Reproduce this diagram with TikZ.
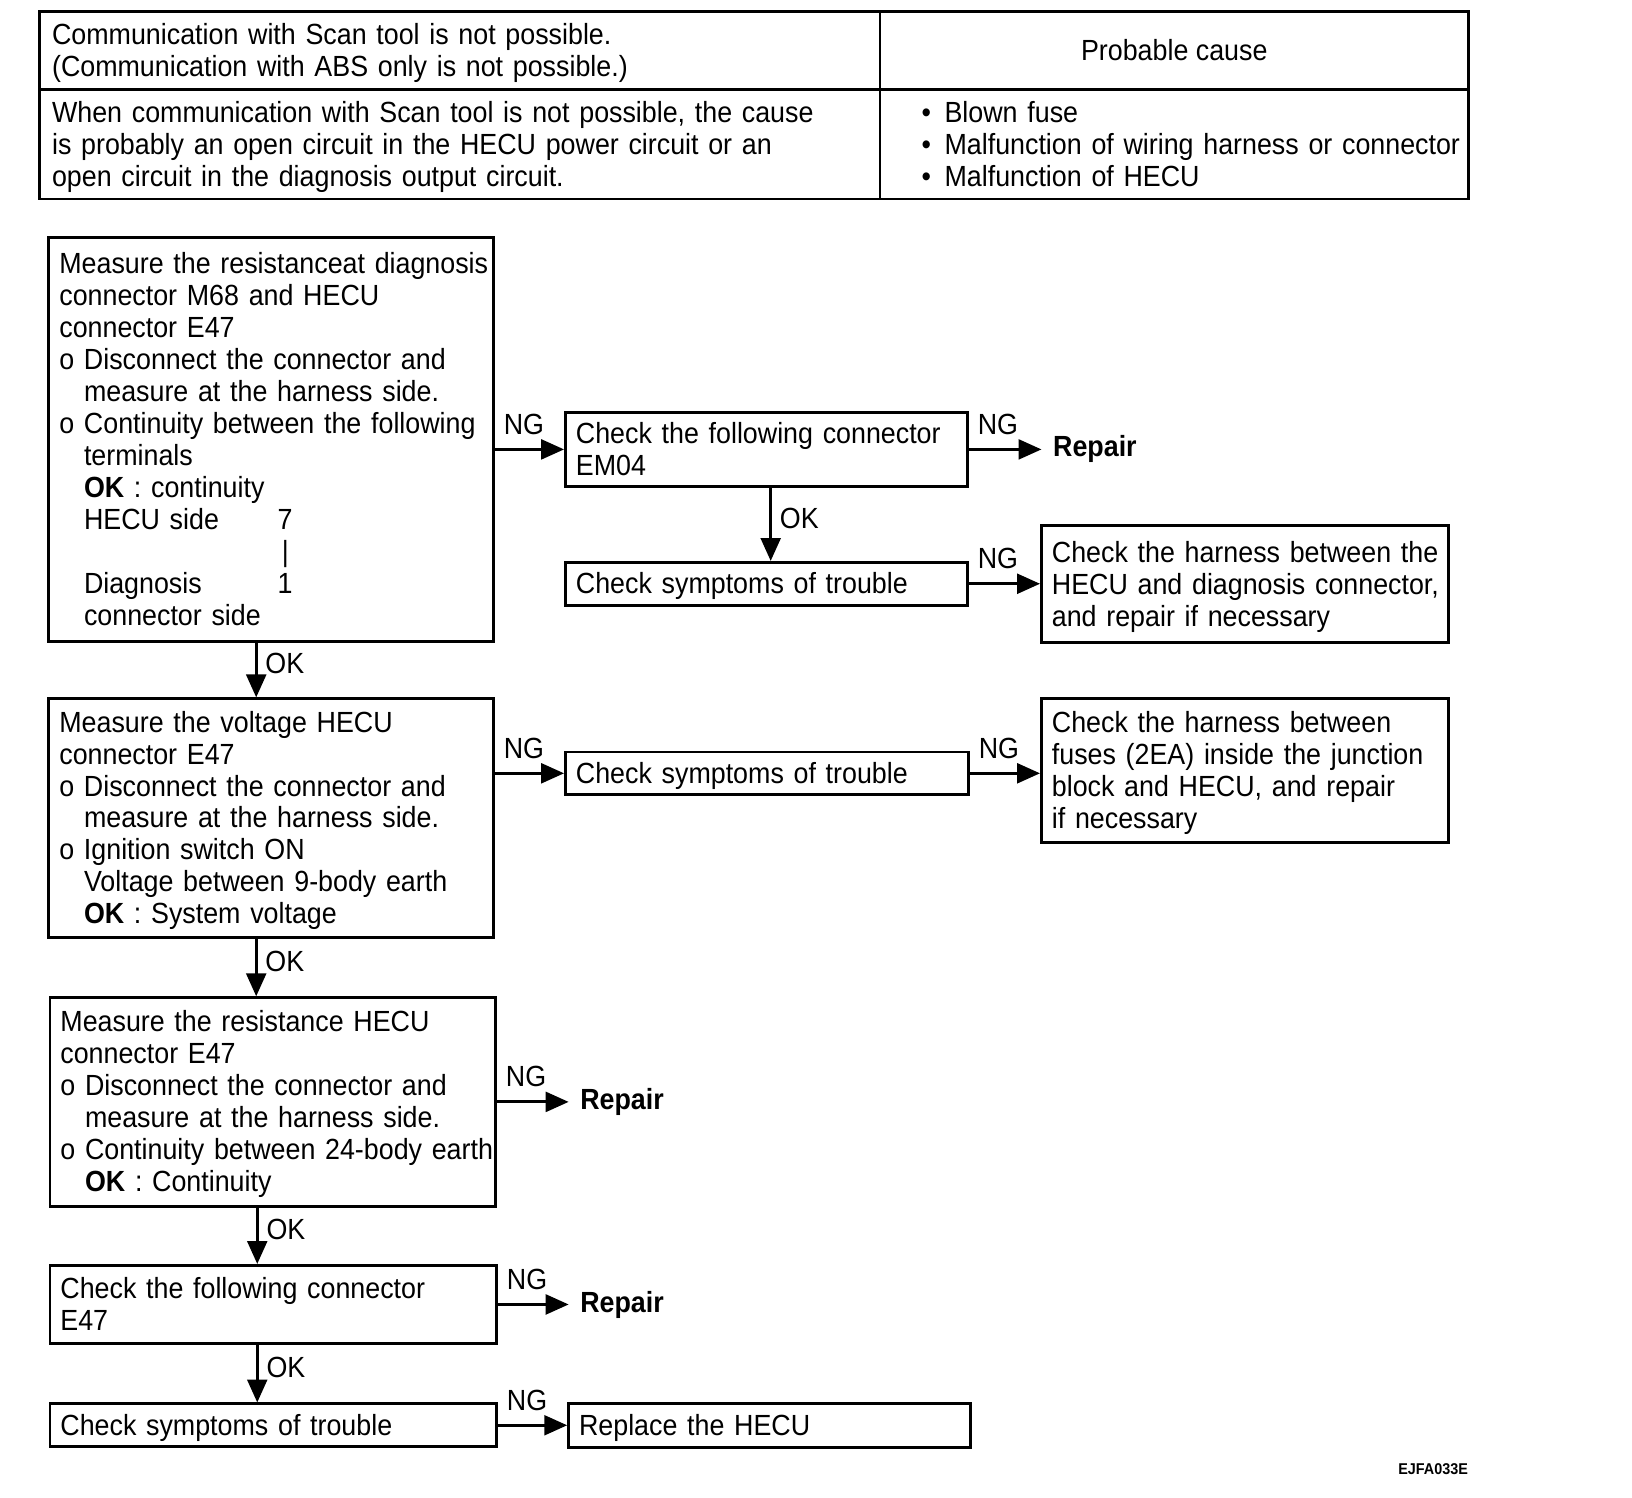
\documentclass[tikz,border=0pt]{standalone}
\usepackage{fontspec}
\setmainfont{Liberation Sans}[FakeStretch=0.92]
\usetikzlibrary{arrows.meta}
\newcommand{\ind}{\hphantom{o }}

\begin{document}
\begin{tikzpicture}[x=1pt, y=-1pt, font=\fontsize{28}{30.7}\selectfont,
    tabcell/.style={draw, rectangle, line width=2.5pt, inner xsep=12pt, inner ysep=3pt, align=left,
        execute at begin node={\hyphenpenalty=10000\rightskip=-60pt plus 1fil\rule{0pt}{25pt}},
        execute at end node={\rule[-6pt]{0pt}{6pt}}},
    chkbox/.style={draw, rectangle, line width=2.8pt, inner xsep=10pt, inner ysep=3pt, align=left,
        execute at begin node={\hyphenpenalty=10000\rightskip=-60pt plus 1fil\rule{0pt}{25pt}},
        execute at end node={\rule[-6pt]{0pt}{6pt}}},
    flowarrow/.style={-{Triangle[length=22pt, width=19pt]}, line width=2.8pt},
    nglabel/.style={anchor=south west, inner sep=0pt, xshift=7pt, yshift=13pt},
    oklabel/.style={anchor=west, inner sep=0pt, xshift=7.5pt, yshift=6pt},
    repairnode/.style={anchor=west, inner xsep=11pt, font=\bfseries\fontsize{28}{30.7}\selectfont}]
    \useasboundingbox (0,0) rectangle (1567,1438);
    % table
    \node (Symptom) at (441.5, 48.5) [tabcell, minimum width=807pt, minimum height=75pt, text width=783pt] {Communication with Scan tool is not possible.\\(Communication with ABS only is not possible.)};
    \node (CauseHead) at (1127.5, 48.5) [draw, line width=2.5pt, minimum width=565pt, minimum height=75pt] {Probable cause};
    \node (Detail) at (441.5, 138.5) [tabcell, minimum width=807pt, minimum height=105pt, text width=783pt] {When communication with Scan tool is not possible, the cause\\is probably an open circuit in the HECU power circuit or an\\open circuit in the diagnosis output circuit.};
    \node (Causes) at (1127.5, 138.5) [tabcell, minimum width=565pt, minimum height=105pt, inner xsep=8pt, text width=549pt] {\hspace*{32pt}\makebox[22pt][l]{\textbullet}Blown fuse\\\hspace*{32pt}\makebox[22pt][l]{\textbullet}Malfunction of wiring harness or connector\\\hspace*{32pt}\makebox[22pt][l]{\textbullet}Malfunction of HECU};
    % flow boxes
    \node (Meas1) at (260.5, 422) [chkbox, minimum width=427pt, minimum height=388pt, text width=407pt] {Measure the resistanceat diagnosis\\connector M68 and HECU\\connector E47\\o Disconnect the connector and\\\ind measure at the harness side.\\o Continuity between the following\\\ind terminals\\\ind\textbf{OK} : continuity\\\ind\makebox[186pt][l]{HECU side}7\\\ind\hspace*{190pt}|\\\ind\makebox[186pt][l]{Diagnosis}1\\\ind connector side};
    \node (Chk1) at (736, 431.5) [chkbox, minimum width=386pt, minimum height=71pt, text width=366pt] {Check the following connector\\EM04};
    \node (Fix1) at (1000, 431.5) [repairnode] {Repair};
    \node (Symp1) at (736, 560.5) [chkbox, minimum width=386pt, minimum height=41pt, text width=366pt] {Check symptoms of trouble};
    \node (Harn1) at (1195.5, 561) [chkbox, minimum width=391pt, minimum height=112pt, text width=371pt] {Check the harness between the\\HECU and diagnosis connector,\\and repair if necessary};
    \node (Volt1) at (260.5, 785.5) [chkbox, minimum width=427pt, minimum height=229pt, text width=407pt] {Measure the voltage HECU\\connector E47\\o Disconnect the connector and\\\ind measure at the harness side.\\o Ignition switch ON\\\ind Voltage between 9-body earth\\\ind\textbf{OK} : System voltage};
    \node (Symp2) at (736.5, 742.5) [chkbox, minimum width=387pt, minimum height=41pt, text width=367pt] {Check symptoms of trouble};
    \node (Harn2) at (1195.5, 740) [chkbox, minimum width=391pt, minimum height=138pt, text width=371pt] {Check the harness between\\fuses (2EA) inside the junction\\block and HECU, and repair\\if necessary};
    \node (Res2) at (262, 1058) [chkbox, minimum width=428pt, minimum height=200pt, text width=408pt] {Measure the resistance HECU\\connector E47\\o Disconnect the connector and\\\ind measure at the harness side.\\o Continuity between 24-body earth\\\ind\textbf{OK} : Continuity};
    \node (Fix2) at (476, 1058) [repairnode, xshift=70pt] {Repair};
    \node (Con2) at (262.5, 1252.5) [chkbox, minimum width=429pt, minimum height=75pt, text width=409pt] {Check the following connector\\E47};
    \node (Fix3) at (477, 1252.5) [repairnode, xshift=69pt] {Repair};
    \node (Symp3) at (262.5, 1368.5) [chkbox, minimum width=429pt, minimum height=41pt, text width=409pt] {Check symptoms of trouble};
    \node (Repl) at (739, 1368.5) [chkbox, minimum width=386pt, minimum height=42pt, text width=366pt] {Replace the HECU};
    \node (Code) at (1376, 1411) [font=\bfseries\fontsize{15}{18}\selectfont] {EJFA033E};
    % connectors
    \draw[flowarrow] (Meas1.east |- Chk1.west) -- node[nglabel, pos=0] {NG} (Chk1.west);
    \draw[flowarrow] (Chk1.east) -- node[nglabel, pos=0] {NG} (Fix1.west);
    \draw[flowarrow] ([xshift=4pt]Chk1.south) -- node[oklabel] {OK} ([xshift=4pt]Symp1.north);
    \draw[flowarrow] (Symp1.east) -- node[nglabel, pos=0] {NG} (Symp1.east -| Harn1.west);
    \draw[flowarrow] ([xshift=-14.5pt]Meas1.south) -- node[oklabel] {OK} ([xshift=-14.5pt]Volt1.north);
    \draw[flowarrow] (Volt1.east |- Symp2.west) -- node[nglabel, pos=0] {NG} (Symp2.west);
    \draw[flowarrow] (Symp2.east) -- node[nglabel, pos=0] {NG} (Symp2.east -| Harn2.west);
    \draw[flowarrow] ([xshift=-14.5pt]Volt1.south) -- node[oklabel] {OK} ([xshift=-14.5pt]Volt1.south |- Res2.north);
    \draw[flowarrow] (Res2.east) -- node[nglabel, pos=0] {NG} (Fix2.west);
    \draw[flowarrow] ([xshift=-15pt]Res2.south) -- node[oklabel] {OK} ([xshift=-15pt]Res2.south |- Con2.north);
    \draw[flowarrow] (Con2.east) -- node[nglabel, pos=0] {NG} (Fix3.west);
    \draw[flowarrow] ([xshift=-15.5pt]Con2.south) -- node[oklabel] {OK} ([xshift=-15.5pt]Con2.south |- Symp3.north);
    \draw[flowarrow] (Symp3.east) -- node[nglabel, pos=0] {NG} (Symp3.east -| Repl.west);
\end{tikzpicture}
\end{document}
